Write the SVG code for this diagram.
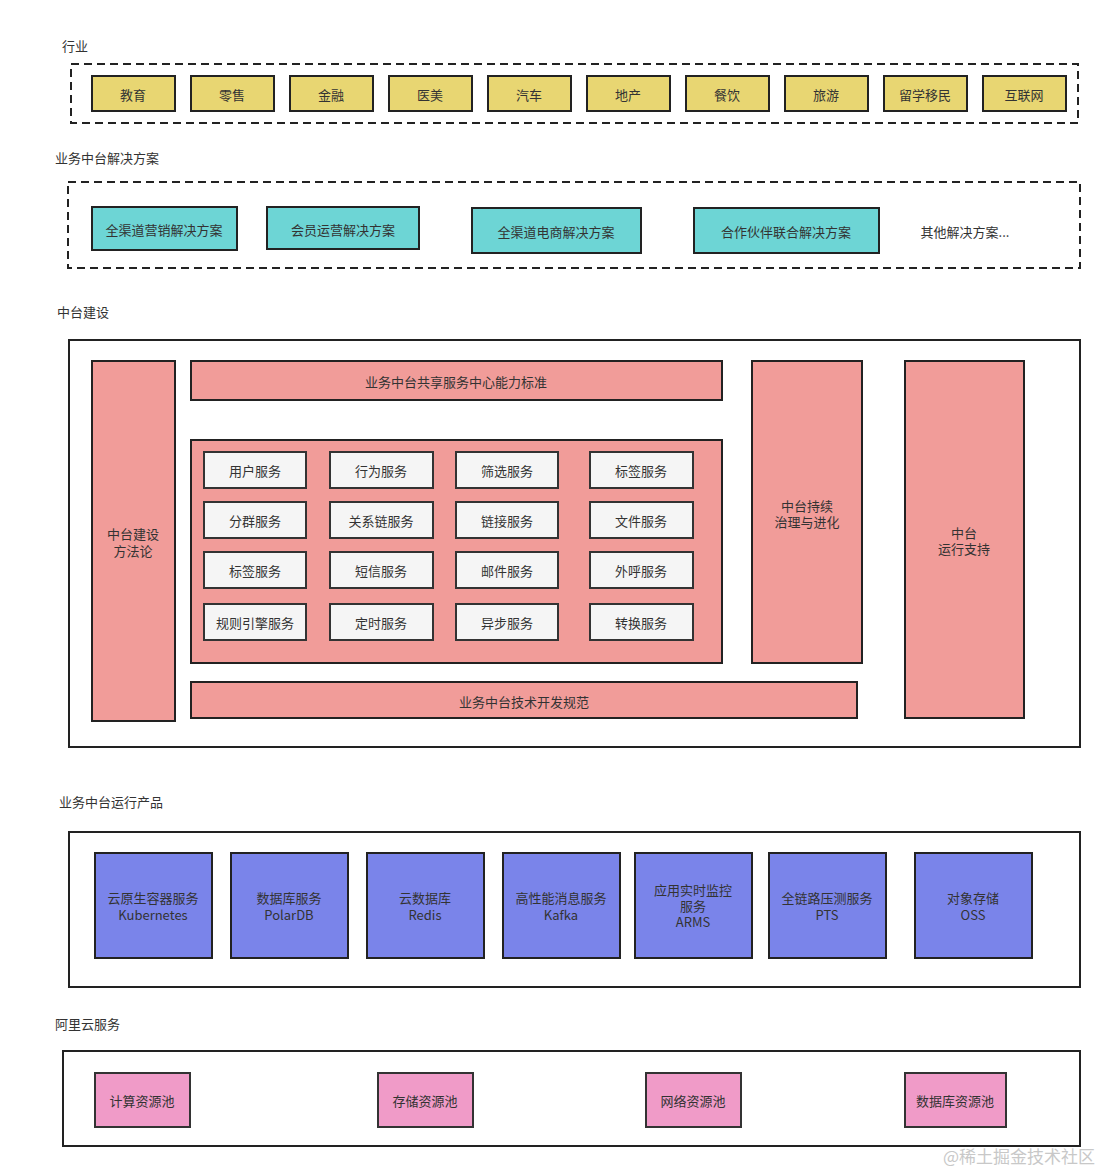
<svg xmlns="http://www.w3.org/2000/svg" width="1105" height="1172" viewBox="0 0 1105 1172">
<style>
text{font-family:"Noto Sans CJK SC","Liberation Sans",sans-serif;font-size:13px;fill:#333;text-anchor:middle;dominant-baseline:central}
.t{text-anchor:start}
.dash{fill:none;stroke:#222;stroke-width:2;stroke-dasharray:8 5}
.frame{fill:#fff;stroke:#222;stroke-width:2}
.y{fill:#e8d672;stroke:#222;stroke-width:2}
.c{fill:#6dd5d5;stroke:#222;stroke-width:2}
.r{fill:#f19c99;stroke:#222;stroke-width:2}
.w{fill:#f5f5f5;stroke:#333;stroke-width:2}
.b{fill:#7a84ea;stroke:#222;stroke-width:2}
.p{fill:#f09bc8;stroke:#333;stroke-width:2}
</style>
<rect width="1105" height="1172" fill="#fff"/>
<g id="industry">
<text class="t" x="62" y="45">行业</text>
<rect class="dash" x="71" y="64" width="1007" height="59"/>
<g id="ind-items">
<rect class="y" x="92" y="76" width="83" height="35"/><text x="133" y="94">教育</text>
<rect class="y" x="191" y="76" width="83" height="35"/><text x="232" y="94">零售</text>
<rect class="y" x="290" y="76" width="83" height="35"/><text x="331" y="94">金融</text>
<rect class="y" x="389" y="76" width="83" height="35"/><text x="430" y="94">医美</text>
<rect class="y" x="488" y="76" width="83" height="35"/><text x="529" y="94">汽车</text>
<rect class="y" x="587" y="76" width="83" height="35"/><text x="628" y="94">地产</text>
<rect class="y" x="686" y="76" width="83" height="35"/><text x="727" y="94">餐饮</text>
<rect class="y" x="785" y="76" width="83" height="35"/><text x="826" y="94">旅游</text>
<rect class="y" x="884" y="76" width="83" height="35"/><text x="925" y="94">留学移民</text>
<rect class="y" x="983" y="76" width="83" height="35"/><text x="1024" y="94">互联网</text>
</g>
</g>
<g id="solutions">
<text class="t" x="55" y="157">业务中台解决方案</text>
<rect class="dash" x="68" y="182" width="1012" height="86"/>
<rect class="c" x="92" y="207" width="145" height="43"/><text x="164" y="229">全渠道营销解决方案</text>
<rect class="c" x="267" y="207" width="152" height="42"/><text x="343" y="229">会员运营解决方案</text>
<rect class="c" x="472" y="208" width="169" height="45"/><text x="556" y="231">全渠道电商解决方案</text>
<rect class="c" x="694" y="208" width="185" height="45"/><text x="786" y="231">合作伙伴联合解决方案</text>
<text x="965" y="231">其他解决方案...</text>
</g>
<g id="platform">
<text class="t" x="57" y="311">中台建设</text>
<rect class="frame" x="69" y="340" width="1011" height="407"/>
<rect class="r" x="92" y="361" width="83" height="360"/><text x="133" y="533">中台建设</text><text x="133" y="550">方法论</text>
<rect class="r" x="191" y="361" width="531" height="39"/><text x="456" y="381">业务中台共享服务中心能力标准</text>
<rect class="r" x="191" y="440" width="531" height="223"/>
<rect class="r" x="191" y="682" width="666" height="36"/><text x="524" y="701">业务中台技术开发规范</text>
<rect class="r" x="752" y="361" width="110" height="302"/><text x="807" y="505">中台持续</text><text x="807" y="521">治理与进化</text>
<rect class="r" x="905" y="361" width="119" height="357"/><text x="964" y="532">中台</text><text x="964" y="548">运行支持</text>
<g id="services">
<rect class="w" x="204" y="452" width="102" height="36"/><text x="255" y="470">用户服务</text>
<rect class="w" x="330" y="452" width="103" height="36"/><text x="381" y="470">行为服务</text>
<rect class="w" x="456" y="452" width="102" height="36"/><text x="507" y="470">筛选服务</text>
<rect class="w" x="590" y="452" width="103" height="36"/><text x="641" y="470">标签服务</text>
<rect class="w" x="204" y="502" width="102" height="36"/><text x="255" y="520">分群服务</text>
<rect class="w" x="330" y="502" width="103" height="36"/><text x="381" y="520">关系链服务</text>
<rect class="w" x="456" y="502" width="102" height="36"/><text x="507" y="520">链接服务</text>
<rect class="w" x="590" y="502" width="103" height="36"/><text x="641" y="520">文件服务</text>
<rect class="w" x="204" y="552" width="102" height="36"/><text x="255" y="570">标签服务</text>
<rect class="w" x="330" y="552" width="103" height="36"/><text x="381" y="570">短信服务</text>
<rect class="w" x="456" y="552" width="102" height="36"/><text x="507" y="570">邮件服务</text>
<rect class="w" x="590" y="552" width="103" height="36"/><text x="641" y="570">外呼服务</text>
<rect class="w" x="204" y="604" width="102" height="36"/><text x="255" y="622">规则引擎服务</text>
<rect class="w" x="330" y="604" width="103" height="36"/><text x="381" y="622">定时服务</text>
<rect class="w" x="456" y="604" width="102" height="36"/><text x="507" y="622">异步服务</text>
<rect class="w" x="590" y="604" width="103" height="36"/><text x="641" y="622">转换服务</text>
</g>
</g>
<g id="products">
<text class="t" x="59" y="801">业务中台运行产品</text>
<rect class="frame" x="69" y="832" width="1011" height="155"/>
<rect class="b" x="95" y="853" width="117" height="105"/><text x="153" y="897">云原生容器服务</text><text x="153" y="914">Kubernetes</text>
<rect class="b" x="231" y="853" width="117" height="105"/><text x="289" y="897">数据库服务</text><text x="289" y="914">PolarDB</text>
<rect class="b" x="367" y="853" width="117" height="105"/><text x="425" y="897">云数据库</text><text x="425" y="914">Redis</text>
<rect class="b" x="503" y="853" width="117" height="105"/><text x="561" y="897">高性能消息服务</text><text x="561" y="914">Kafka</text>
<rect class="b" x="635" y="853" width="117" height="105"/><text x="693" y="889">应用实时监控</text><text x="693" y="905">服务</text><text x="693" y="921">ARMS</text>
<rect class="b" x="769" y="853" width="117" height="105"/><text x="827" y="897">全链路压测服务</text><text x="827" y="914">PTS</text>
<rect class="b" x="915" y="853" width="117" height="105"/><text x="973" y="897">对象存储</text><text x="973" y="914">OSS</text>
</g>
<g id="aliyun">
<text class="t" x="55" y="1023">阿里云服务</text>
<rect class="frame" x="63" y="1051" width="1017" height="95"/>
<rect class="p" x="95" y="1073" width="95" height="54"/><text x="142" y="1100">计算资源池</text>
<rect class="p" x="378" y="1073" width="95" height="54"/><text x="425" y="1100">存储资源池</text>
<rect class="p" x="646" y="1073" width="95" height="54"/><text x="693" y="1100">网络资源池</text>
<rect class="p" x="905" y="1073" width="101" height="54"/><text x="955" y="1100">数据库资源池</text>
</g>
<g id="connectors"/>
<text x="1019" y="1155" style="font-size:17px;fill:#c8c8c8">@稀土掘金技术社区</text>
</svg>
